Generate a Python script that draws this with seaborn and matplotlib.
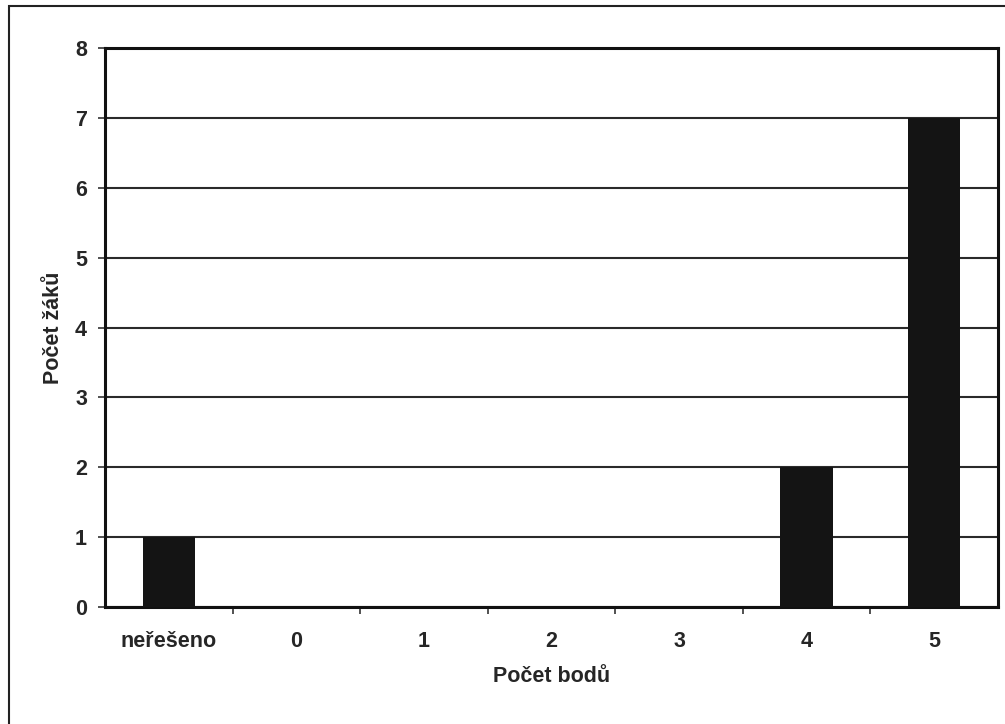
import matplotlib
matplotlib.use("Agg")
import matplotlib.pyplot as plt
import seaborn as sns
import pandas as pd
from matplotlib.patches import Rectangle

categories = ["neřešeno", "0", "1", "2", "3", "4", "5"]
counts = [1, 0, 0, 0, 0, 2, 7]
y_ticks = [0, 1, 2, 3, 4, 5, 6, 7, 8]

sns.set_theme(style="white")
plt.rcParams['font.family'] = ['Liberation Sans', 'DejaVu Sans']

df = pd.DataFrame({"kat": categories, "pocet": counts})

fig = plt.figure(figsize=(10.05, 7.24), dpi=100)
ax = fig.add_axes([105/1005, 1 - 607/724, (998-105)/1005, (607-48)/724])

sns.barplot(data=df, x="kat", y="pocet", order=categories, color="#141414",
            width=0.41, saturation=1, ax=ax, zorder=3)
for p in ax.patches:
    p.set_linewidth(0)

FS = 15.5
ax.set_ylim(0, 8)
ax.set_yticks(y_ticks)
ax.set_yticklabels([str(v) for v in y_ticks], fontsize=FS, fontweight="bold")
ax.set_xlim(-0.5, len(categories) - 0.5)
ax.set_xticks(range(len(categories)))
ax.set_xticklabels(categories, fontsize=FS, fontweight="bold")
ax.tick_params(axis="x", length=0, pad=17)
ax.tick_params(axis="y", length=5, width=1.2, color="#333333", left=True, pad=8, direction="out")
ax.set_xticks([i + 0.5 for i in range(len(categories) - 1)], minor=True)
ax.tick_params(axis="x", which="minor", length=5, width=1.2, color="#333333", bottom=True, direction="out")

ax.grid(axis="y", color="#2a2a2a", linewidth=1.5, zorder=0)
ax.grid(axis="x", visible=False)
for s in ax.spines.values():
    s.set_color("#111111")
    s.set_linewidth(2.2)
    s.set_visible(True)

ax.set_xlabel("Počet bodů", fontsize=FS, fontweight="bold", labelpad=10)
ax.set_ylabel("Počet žáků", fontsize=FS, fontweight="bold", labelpad=8)

fig.patches.append(Rectangle((9/1005, -0.05), 1.2, 1 - 6/724 + 0.05, transform=fig.transFigure,
                             fill=False, edgecolor="#222222", linewidth=1.5))

fig.savefig("out.png", dpi=100, facecolor="white")
